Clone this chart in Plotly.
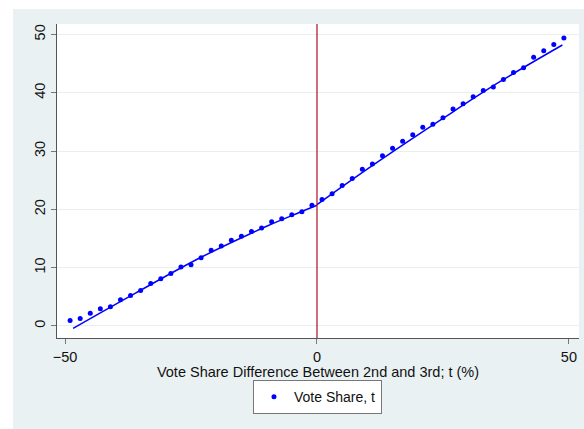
import plotly.graph_objects as go

# ---- data ----
x_left = [-49, -47, -45, -43, -41, -39, -37, -35, -33, -31, -29, -27, -25,
          -23, -21, -19, -17, -15, -13, -11, -9, -7, -5, -3, -1]
y_left = [0.95, 1.3, 2.2, 2.95, 3.3, 4.5, 5.25, 6.1, 7.3, 8.1, 9.0, 10.1, 10.5,
          11.7, 13.0, 13.7, 14.7, 15.4, 16.2, 16.8, 17.9, 18.4, 19.1, 19.6, 20.7]
x_right = [1, 3, 5, 7, 9, 11, 13, 15, 17, 19, 21, 23, 25,
           27, 29, 31, 33, 35, 37, 39, 41, 43, 45, 47, 49]
y_right = [21.7, 22.7, 24.1, 25.3, 26.9, 27.8, 29.2, 30.5, 31.7, 32.8, 34.1, 34.6, 35.7,
           37.2, 38.1, 39.3, 40.4, 41.0, 42.3, 43.5, 44.3, 46.1, 47.2, 48.3, 49.4]

fit_left_x = [-48.4, -36.1, -23.2, -10, -3.4, 0]
fit_left_y = [-0.4, 5.6, 11.7, 17.1, 19.5, 20.7]
fit_right_x = [0, 5, 12.5, 25, 36.3, 48.7]
fit_right_y = [20.8, 23.9, 28.4, 35.6, 41.9, 48.2]

x_ticks = [-50, 0, 50]
y_ticks = [0, 10, 20, 30, 40, 50]
cutoff = 0

BLUE = "#0000ff"
BG = "#eaf1f3"
FONT = "Liberation Sans, Arial, sans-serif"

fig = go.Figure()
fig.add_trace(go.Scatter(x=x_left + x_right, y=y_left + y_right, mode="markers",
                         marker=dict(color=BLUE, size=5), name="Vote Share, t",
                         showlegend=True))
fig.add_trace(go.Scatter(x=fit_left_x, y=fit_left_y, mode="lines", line_shape="spline",
                         line=dict(color=BLUE, width=1.5), showlegend=False))
fig.add_trace(go.Scatter(x=fit_right_x, y=fit_right_y, mode="lines", line_shape="spline",
                         line=dict(color=BLUE, width=1.5), showlegend=False))

# white strips of the page outside the grey graph region
fig.add_shape(type="rect", xref="paper", yref="paper", x0=-0.12, x1=-0.0843, y0=-0.3, y1=1.1,
              fillcolor="white", line_width=0, layer="below")
fig.add_shape(type="rect", xref="paper", yref="paper", x0=-0.12, x1=1.05, y0=1.0478, y1=1.1,
              fillcolor="white", line_width=0, layer="below")
# vertical cutoff line
fig.add_shape(type="line", xref="x", yref="paper", x0=cutoff, x1=cutoff, y0=0, y1=1,
              line=dict(color="#a8102a", width=1.2))

fig.update_layout(
    width=584, height=429,
    margin=dict(l=57, r=5, t=24, b=91, autoexpand=False),
    paper_bgcolor=BG, plot_bgcolor="white",
    font=dict(family=FONT, size=14.5, color="#111"),
    showlegend=True,
    legend=dict(orientation="h", x=0.499, xanchor="center", y=-0.134, yanchor="top",
                bgcolor="white", bordercolor="#777", borderwidth=1,
                font=dict(size=14)),
    xaxis=dict(range=[-51.6, 52.0], tickvals=x_ticks, showgrid=False, zeroline=False,
               automargin=False,
               showline=True, linecolor="#555", linewidth=1.2,
               ticks="outside", ticklen=5, tickcolor="#777",
               title=dict(text="Vote Share Difference Between 2nd and 3rd; t (%)",
                          standoff=0, font=dict(size=14.5))),
    yaxis=dict(range=[-2.06, 51.8], tickvals=y_ticks, tickangle=-90, zeroline=False,
               automargin=False,
               showgrid=True, gridcolor="#e8eff1", gridwidth=1.2,
               showline=True, linecolor="#555", linewidth=1.2,
               ticks="outside", ticklen=5, tickcolor="#777"),
)

fig.write_html("out.html", config={"displayModeBar": False},
               post_script="document.body.style.margin='0';")
